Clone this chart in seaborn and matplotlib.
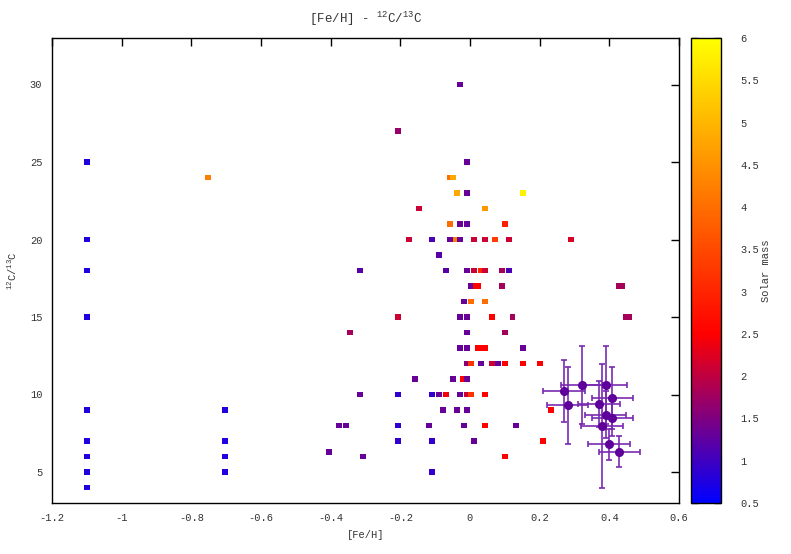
import numpy as np
import pandas as pd
import matplotlib
matplotlib.use("Agg")
import matplotlib.pyplot as plt
from matplotlib.colors import LinearSegmentedColormap, Normalize
import seaborn as sns

# --- data ---
feh = [
    -1.1, -1.1, -1.1, -1.1, -1.1, -1.1, -1.1, -1.1, -1.1,
    -0.752, -0.703, -0.703, -0.703, -0.703,
    -0.406, -0.376, -0.356, -0.345, -0.316, -0.316, -0.306,
    -0.207, -0.207, -0.207, -0.207, -0.207,
    -0.176, -0.157, -0.147, -0.118,
    -0.108, -0.108, -0.108, -0.108,
    -0.088, -0.088, -0.078, -0.068, -0.068,
    -0.057, -0.057, -0.057, -0.048, -0.048, -0.040, -0.038, -0.038,
    -0.029, -0.029, -0.029, -0.029, -0.029, -0.029,
    -0.019, -0.017, -0.017,
    -0.008, -0.008, -0.008, -0.008, -0.008, -0.008, -0.008, -0.008, -0.008, -0.008, -0.008,
    0.002, 0.002, 0.002, 0.002,
    0.012, 0.012, 0.012, 0.017, 0.022,
    0.022, 0.032, 0.042, 0.032, 0.032,
    0.042, 0.042, 0.042, 0.042, 0.042, 0.042,
    0.062, 0.062, 0.072, 0.081, 0.092, 0.092,
    0.101, 0.101, 0.101, 0.101, 0.111, 0.111, 0.122, 0.131,
    0.151, 0.151, 0.151, 0.201, 0.21, 0.233, 0.29,
    0.428, 0.436, 0.449, 0.457,
]
c_ratio = [
    25, 20, 18, 15, 9, 7, 6, 5, 4,
    24, 9, 7, 6, 5,
    6.3, 8, 8, 14, 18, 10, 6,
    27, 15, 10, 8, 7,
    20, 11, 22, 8,
    20, 10, 7, 5,
    19, 10, 9, 18, 10,
    24, 21, 20, 24, 11, 20, 23, 9,
    30, 21, 20, 15, 13, 10,
    11, 16, 8,
    25, 23, 21, 18, 15, 14, 13, 12, 11, 10, 9,
    17, 16, 12, 10,
    20, 18, 7, 17, 17,
    13, 13, 13, 18, 12,
    22, 20, 18, 16, 10, 8,
    15, 12, 20, 12, 18, 17,
    21, 14, 12, 6, 20, 18, 15, 8,
    23, 13, 12, 12, 7, 9, 20,
    17, 17, 15, 15,
]
mass = [
    0.75, 0.75, 0.75, 0.75, 0.75, 0.75, 0.75, 0.75, 0.75,
    4.2, 0.75, 0.75, 0.75, 0.75,
    1.3, 1.3, 1.3, 1.8, 1.2, 1.3, 1.3,
    1.7, 2.1, 0.9, 0.9, 0.9,
    2.1, 1.3, 2.1, 1.3,
    1.1, 0.9, 0.9, 0.9,
    1.2, 1.3, 1.3, 1.2, 2.4,
    4.0, 4.0, 1.3, 4.8, 1.3, 4.2, 4.8, 1.3,
    1.3, 1.3, 1.3, 1.3, 1.3, 1.3,
    2.5, 1.3, 1.3,
    1.3, 1.3, 1.3, 1.3, 1.3, 1.3, 1.3, 1.6, 1.3, 2.1, 1.3,
    1.3, 4.0, 3.2, 3.2,
    2.1, 2.1, 1.3, 2.5, 2.5,
    2.5, 2.5, 2.5, 3.0, 1.3,
    4.6, 2.1, 2.1, 4.0, 2.5, 2.5,
    2.5, 2.1, 3.3, 1.3, 1.8, 1.8,
    2.9, 1.8, 2.5, 2.5, 2.1, 1.1, 1.8, 1.3,
    5.8, 1.3, 2.5, 2.5, 2.5, 2.5, 2.2,
    1.8, 1.8, 1.8, 1.8,
]

# points with error bars
err_feh = [0.271, 0.321, 0.39, 0.409, 0.28, 0.37, 0.389, 0.409, 0.379, 0.399, 0.429]
err_c = [10.2, 10.6, 10.6, 9.8, 9.3, 9.4, 8.7, 8.5, 8.0, 6.8, 6.3]
err_feh_e = [0.06] * 11
err_c_e = [2.0, 2.5, 2.5, 2.0, 2.5, 1.5, 1.5, 1.2, 4.0, 1.0, 1.0]

df = pd.DataFrame({"feh": feh, "c_ratio": c_ratio, "mass": mass})

# --- style ---
sns.set_style("white")
plt.rcParams["font.family"] = ["Liberation Mono", "DejaVu Sans Mono"]
plt.rcParams["mathtext.fontset"] = "custom"
plt.rcParams["mathtext.rm"] = "Liberation Mono"
plt.rcParams["mathtext.it"] = "Liberation Mono"
plt.rcParams["mathtext.bf"] = "Liberation Mono"
plt.rcParams["font.size"] = 7.5

cmap = LinearSegmentedColormap.from_list(
    "mass", [(0.0, "#0000ff"), (2.0 / 5.5, "#ff0000"), (1.0, "#ffff00")])
norm = Normalize(0.5, 6)

fig = plt.figure(figsize=(7.91, 5.54), dpi=100)
ax = fig.add_axes([52 / 791, 51 / 554, 627 / 791, 465 / 554])

sns.scatterplot(data=df, x="feh", y="c_ratio", hue="mass", palette=cmap,
                hue_norm=norm, marker="s", s=18, linewidth=0, legend=False, ax=ax)

ax.errorbar(err_feh, err_c, xerr=err_feh_e, yerr=err_c_e, fmt="o",
            color="#5e0099", ecolor="#7a2ab0", markersize=5.5,
            elinewidth=1.2, capsize=2.5, capthick=1.2)

ax.set_xlim(-1.2, 0.6)
ax.set_ylim(3, 33)
ax.set_xticks(np.arange(-1.2, 0.61, 0.2))
ax.set_xticklabels(["-1.2", "-1", "-0.8", "-0.6", "-0.4", "-0.2", "0", "0.2", "0.4", "0.6"])
ax.set_yticks([5, 10, 15, 20, 25, 30])
ax.tick_params(direction="in", top=True, right=True, length=6, width=1,
               colors="black", labelcolor="#333333", pad=7)
for sp in ax.spines.values():
    sp.set_color("black")
    sp.set_linewidth(1)

ax.set_xlabel("[Fe/H]", color="#333333", labelpad=5)
ax.set_ylabel("$^{12}$C/$^{13}$C", color="#333333", labelpad=8)
ax.set_title("[Fe/H] - $^{12}$C/$^{13}$C", color="#333333", pad=11)

# colorbar
cax = fig.add_axes([691 / 791, 51 / 554, 30 / 791, 465 / 554])
sm = plt.cm.ScalarMappable(cmap=cmap, norm=norm)
cb = fig.colorbar(sm, cax=cax)
cb.set_ticks(np.arange(0.5, 6.01, 0.5))
cb.set_ticklabels(["0.5", "1", "1.5", "2", "2.5", "3", "3.5", "4", "4.5", "5", "5.5", "6"])
cb.ax.tick_params(direction="in", left=True, right=True, length=5, width=1,
                  labelcolor="#333333", pad=14)
cb.outline.set_color("black")
cb.outline.set_linewidth(1)
cb.set_label("Solar mass", color="#333333", labelpad=1)

plt.savefig("out.png", dpi=100)
